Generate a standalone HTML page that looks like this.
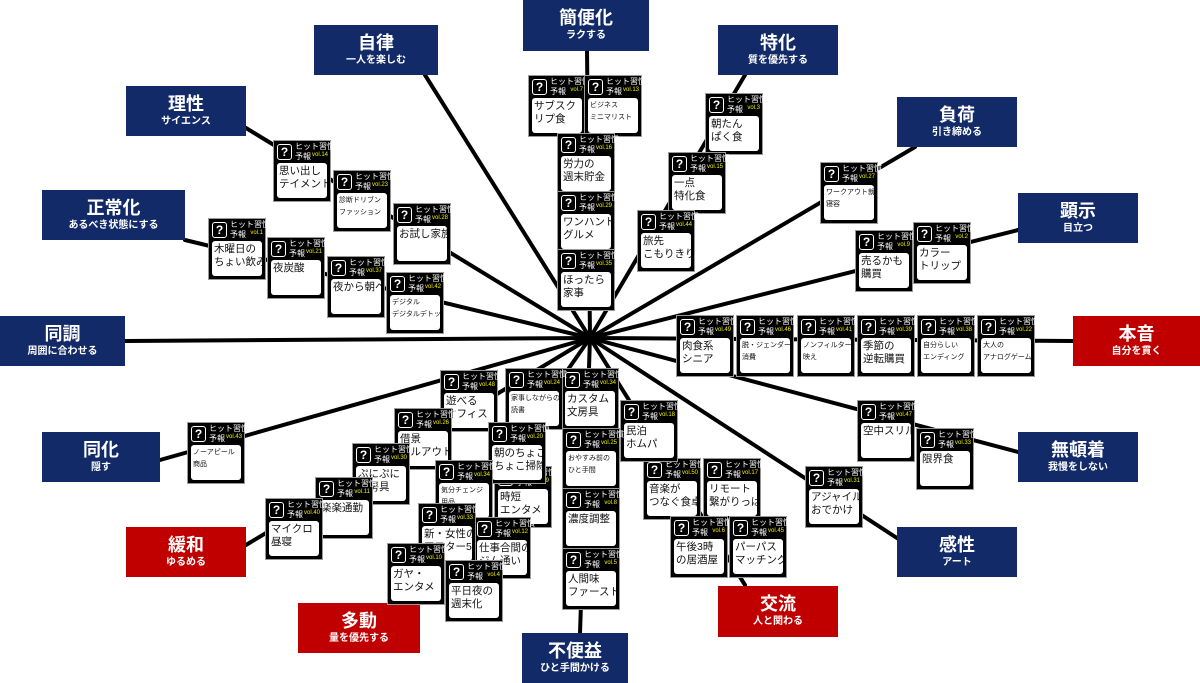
<!DOCTYPE html>
<html><head><meta charset="utf-8"><style>
body{margin:0;width:1200px;height:683px;position:relative;background:#fff;overflow:hidden;font-family:"Liberation Sans","Noto Sans CJK JP",sans-serif}
svg{position:absolute;left:0;top:0}
.l{position:absolute;color:#fff;text-align:center;font-weight:bold;box-sizing:border-box;padding-top:7px;background:#132a68}
.l .t{font-size:18px;line-height:22px;display:block}
.l .s{font-size:10px;line-height:14px;display:block}
.r{background:#c00000}
.c{position:absolute;width:56px;height:60px;background:#000;border:1px solid #999;}
.c i{position:absolute;left:3px;top:3px;width:13px;height:14px;border:1.5px solid #fff;border-radius:3px;color:#fff;font-style:normal;font-weight:bold;font-size:12px;line-height:14px;text-align:center}
.c b{position:absolute;left:21px;top:1px;color:#fff;font-size:8px;line-height:10px;font-weight:normal;white-space:nowrap}
.c s{position:absolute;right:2px;top:11px;color:#ee0;font-size:6px;text-decoration:none}
.c p{position:absolute;margin:0;left:3px;top:22px;width:46px;height:32px;background:#fff;border-radius:3px;padding:2px 2px 1px 2px;font-size:10.5px;line-height:13px;color:#111;overflow:hidden;white-space:nowrap}
.c p.m{font-size:7px;line-height:12px}
</style></head><body>
<svg width="1200" height="683"><g stroke="#000" stroke-width="4" stroke-linecap="round">
<line x1="590" y1="338" x2="587" y2="50"/>
<line x1="590" y1="338" x2="425" y2="75"/>
<line x1="590" y1="338" x2="745" y2="75"/>
<line x1="590" y1="338" x2="246" y2="128"/>
<line x1="590" y1="338" x2="915" y2="147"/>
<line x1="590" y1="338" x2="185" y2="240"/>
<line x1="590" y1="338" x2="1018" y2="230"/>
<line x1="590" y1="338" x2="125" y2="341"/>
<line x1="590" y1="338" x2="1073" y2="341"/>
<line x1="590" y1="338" x2="160" y2="460"/>
<line x1="590" y1="338" x2="1018" y2="452"/>
<line x1="590" y1="338" x2="246" y2="545"/>
<line x1="590" y1="338" x2="900" y2="540"/>
<line x1="590" y1="338" x2="405" y2="603"/>
<line x1="590" y1="338" x2="745" y2="585"/>
<line x1="590" y1="338" x2="580" y2="633"/>
</g></svg>

<div class="l" style="left:523px;top:0;width:126px;height:51px">
<span class="t">簡便化</span><span class="s">ラクする</span></div>
<div class="l" style="left:314px;top:25px;width:124px;height:50px"><span class="t">自律</span><span class="s">一人を楽しむ</span></div>
<div class="l" style="left:718px;top:25px;width:120px;height:50px"><span class="t">特化</span><span class="s">質を優先する</span></div>
<div class="l" style="left:126px;top:86px;width:120px;height:50px"><span class="t">理性</span><span class="s">サイエンス</span></div>
<div class="l" style="left:897px;top:97px;width:120px;height:50px"><span class="t">負荷</span><span class="s">引き締める</span></div>
<div class="l" style="left:42px;top:190px;width:143px;height:50px"><span class="t">正常化</span><span class="s">あるべき状態にする</span></div>
<div class="l" style="left:1018px;top:193px;width:120px;height:50px"><span class="t">顕示</span><span class="s">目立つ</span></div>
<div class="l" style="left:0;top:316px;width:125px;height:50px"><span class="t">同調</span><span class="s">周囲に合わせる</span></div>
<div class="l r" style="left:1073px;top:316px;width:127px;height:50px"><span class="t">本音</span><span class="s">自分を貫く</span></div>
<div class="l" style="left:42px;top:432px;width:118px;height:50px"><span class="t">同化</span><span class="s">隠す</span></div>
<div class="l" style="left:1018px;top:432px;width:120px;height:50px"><span class="t">無頓着</span><span class="s">我慢をしない</span></div>
<div class="l r" style="left:126px;top:527px;width:120px;height:50px"><span class="t">緩和</span><span class="s">ゆるめる</span></div>
<div class="l" style="left:897px;top:527px;width:120px;height:50px"><span class="t">感性</span><span class="s">アート</span></div>
<div class="l r" style="left:298px;top:603px;width:122px;height:50px"><span class="t">多動</span><span class="s">量を優先する</span></div>
<div class="l r" style="left:718px;top:586px;width:120px;height:51px"><span class="t">交流</span><span class="s">人と関わる</span></div>
<div class="l" style="left:522px;top:633px;width:106px;height:50px"><span class="t">不便益</span><span class="s">ひと手間かける</span></div>

<div class="c" style="left:528px;top:75px"><i>?</i><b>ヒット習慣<br>予報</b><s>vol.7</s><p>サブスク<br>リプ食</p></div>
<div class="c" style="left:584px;top:75px"><i>?</i><b>ヒット習慣<br>予報</b><s>vol.13</s><p class="m">ビジネス<br>ミニマリスト</p></div>
<div class="c" style="left:557px;top:133px"><i>?</i><b>ヒット習慣<br>予報</b><s>vol.16</s><p>労力の<br>週末貯金</p></div>
<div class="c" style="left:557px;top:191px"><i>?</i><b>ヒット習慣<br>予報</b><s>vol.29</s><p>ワンハンド<br>グルメ</p></div>
<div class="c" style="left:557px;top:249px"><i>?</i><b>ヒット習慣<br>予報</b><s>vol.35</s><p>ほったら<br>家事</p></div>
<div class="c" style="left:705px;top:93px"><i>?</i><b>ヒット習慣<br>予報</b><s>vol.3</s><p>朝たん<br>ぱく食</p></div>
<div class="c" style="left:668px;top:152px"><i>?</i><b>ヒット習慣<br>予報</b><s>vol.15</s><p>一点<br>特化食</p></div>
<div class="c" style="left:637px;top:210px"><i>?</i><b>ヒット習慣<br>予報</b><s>vol.44</s><p>旅先<br>こもりきり</p></div>
<div class="c" style="left:820px;top:162px"><i>?</i><b>ヒット習慣<br>予報</b><s>vol.27</s><p class="m">ワークアウト就<br>寝容</p></div>
<div class="c" style="left:855px;top:230px"><i>?</i><b>ヒット習慣<br>予報</b><s>vol.9</s><p>売るかも<br>購買</p></div>
<div class="c" style="left:913px;top:222px"><i>?</i><b>ヒット習慣<br>予報</b><s>vol.2</s><p>カラー<br>トリップ</p></div>
<div class="c" style="left:676px;top:315px"><i>?</i><b>ヒット習慣<br>予報</b><s>vol.49</s><p>肉食系<br>シニア</p></div>
<div class="c" style="left:736px;top:315px"><i>?</i><b>ヒット習慣<br>予報</b><s>vol.46</s><p class="m">脱・ジェンダー<br>消費</p></div>
<div class="c" style="left:797px;top:315px"><i>?</i><b>ヒット習慣<br>予報</b><s>vol.41</s><p class="m">ノンフィルター<br>映え</p></div>
<div class="c" style="left:857px;top:315px"><i>?</i><b>ヒット習慣<br>予報</b><s>vol.39</s><p>季節の<br>逆転購買</p></div>
<div class="c" style="left:917px;top:315px"><i>?</i><b>ヒット習慣<br>予報</b><s>vol.38</s><p class="m">自分らしい<br>エンディング</p></div>
<div class="c" style="left:977px;top:315px"><i>?</i><b>ヒット習慣<br>予報</b><s>vol.22</s><p class="m">大人の<br>アナログゲーム</p></div>
<div class="c" style="left:857px;top:400px"><i>?</i><b>ヒット習慣<br>予報</b><s>vol.47</s><p>空中スリル</p></div>
<div class="c" style="left:916px;top:428px"><i>?</i><b>ヒット習慣<br>予報</b><s>vol.33</s><p>限界食</p></div>
<div class="c" style="left:805px;top:466px"><i>?</i><b>ヒット習慣<br>予報</b><s>vol.31</s><p>アジャイル<br>おでかけ</p></div>
<div class="c" style="left:643px;top:458px"><i>?</i><b>ヒット習慣<br>予報</b><s>vol.50</s><p>音楽が<br>つなぐ食卓</p></div>
<div class="c" style="left:703px;top:458px"><i>?</i><b>ヒット習慣<br>予報</b><s>vol.17</s><p>リモート<br>繋がりっぱ</p></div>
<div class="c" style="left:670px;top:516px"><i>?</i><b>ヒット習慣<br>予報</b><s>vol.6</s><p>午後3時<br>の居酒屋</p></div>
<div class="c" style="left:729px;top:516px"><i>?</i><b>ヒット習慣<br>予報</b><s>vol.45</s><p>パーパス<br>マッチング</p></div>
<div class="c" style="left:620px;top:400px"><i>?</i><b>ヒット習慣<br>予報</b><s>vol.18</s><p>民泊<br>ホムパ</p></div>
<div class="c" style="left:561px;top:368px"><i>?</i><b>ヒット習慣<br>予報</b><s>vol.34</s><p>カスタム<br>文房具</p></div>
<div class="c" style="left:562px;top:428px"><i>?</i><b>ヒット習慣<br>予報</b><s>vol.25</s><p class="m">おやすみ前の<br>ひと手間</p></div>
<div class="c" style="left:562px;top:488px"><i>?</i><b>ヒット習慣<br>予報</b><s>vol.8</s><p>濃度調整</p></div>
<div class="c" style="left:562px;top:548px"><i>?</i><b>ヒット習慣<br>予報</b><s>vol.5</s><p>人間味<br>ファースト</p></div>
<div class="c" style="left:505px;top:368px"><i>?</i><b>ヒット習慣<br>予報</b><s>vol.24</s><p class="m">家事しながらの<br>読書</p></div>
<div class="c" style="left:440px;top:370px"><i>?</i><b>ヒット習慣<br>予報</b><s>vol.48</s><p>遊べる<br>オフィス</p></div>
<div class="c" style="left:394px;top:408px"><i>?</i><b>ヒット習慣<br>予報</b><s>vol.26</s><p>借景<br>チルアウト</p></div>
<div class="c" style="left:494px;top:466px"><i>?</i><b>ヒット習慣<br>予報</b><s>vol.19</s><p>時短<br>エンタメ</p></div>
<div class="c" style="left:488px;top:422px"><i>?</i><b>ヒット習慣<br>予報</b><s>vol.20</s><p>朝のちょこ<br>ちょこ掃除</p></div>
<div class="c" style="left:435px;top:460px"><i>?</i><b>ヒット習慣<br>予報</b><s>vol.34</s><p class="m">気分チェンジ<br>用品</p></div>
<div class="c" style="left:352px;top:443px"><i>?</i><b>ヒット習慣<br>予報</b><s>vol.30</s><p>ぷにぷに<br>文房具</p></div>
<div class="c" style="left:473px;top:517px"><i>?</i><b>ヒット習慣<br>予報</b><s>vol.12</s><p>仕事合間の<br>ジム通い</p></div>
<div class="c" style="left:418px;top:503px"><i>?</i><b>ヒット習慣<br>予報</b><s>vol.33</s><p>新・女性の<br>アフター5</p></div>
<div class="c" style="left:315px;top:477px"><i>?</i><b>ヒット習慣<br>予報</b><s>vol.11</s><p>楽楽通勤</p></div>
<div class="c" style="left:265px;top:498px"><i>?</i><b>ヒット習慣<br>予報</b><s>vol.40</s><p>マイクロ<br>昼寝</p></div>
<div class="c" style="left:187px;top:422px"><i>?</i><b>ヒット習慣<br>予報</b><s>vol.43</s><p class="m">ノーアピール<br>商品</p></div>
<div class="c" style="left:445px;top:560px"><i>?</i><b>ヒット習慣<br>予報</b><s>vol.4</s><p>平日夜の<br>週末化</p></div>
<div class="c" style="left:387px;top:543px"><i>?</i><b>ヒット習慣<br>予報</b><s>vol.10</s><p>ガヤ・<br>エンタメ</p></div>
<div class="c" style="left:273px;top:140px"><i>?</i><b>ヒット習慣<br>予報</b><s>vol.14</s><p>思い出し<br>テイメント</p></div>
<div class="c" style="left:333px;top:170px"><i>?</i><b>ヒット習慣<br>予報</b><s>vol.23</s><p class="m">診断ドリブン<br>ファッション</p></div>
<div class="c" style="left:393px;top:203px"><i>?</i><b>ヒット習慣<br>予報</b><s>vol.28</s><p>お試し家族</p></div>
<div class="c" style="left:208px;top:218px"><i>?</i><b>ヒット習慣<br>予報</b><s>vol.1</s><p>木曜日の<br>ちょい飲み</p></div>
<div class="c" style="left:267px;top:237px"><i>?</i><b>ヒット習慣<br>予報</b><s>vol.21</s><p>夜炭酸</p></div>
<div class="c" style="left:327px;top:256px"><i>?</i><b>ヒット習慣<br>予報</b><s>vol.37</s><p>夜から朝へ</p></div>
<div class="c" style="left:386px;top:272px"><i>?</i><b>ヒット習慣<br>予報</b><s>vol.42</s><p class="m">デジタル<br>デジタルデトックス</p></div>
</body></html>
